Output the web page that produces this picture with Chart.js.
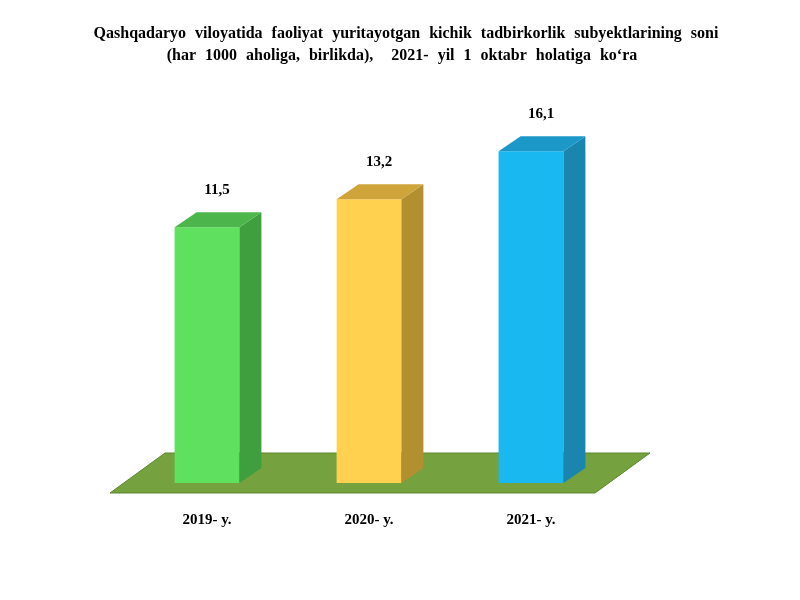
<!DOCTYPE html>
<html>
<head>
<meta charset="utf-8">
<script src="https://cdn.jsdelivr.net/npm/chart.js@4"></script>
<style>
  body { margin: 0; background: #fff; }
  #wrap { width: 800px; height: 600px; }
</style>
</head>
<body>
<div id="wrap"><canvas id="myChart" width="800" height="600"></canvas></div>
<script>
// DATOS
const categorias = ["2019- y.", "2020- y.", "2021- y."];
const valores = [11.5, 13.2, 16.1];
const etiquetas = ["11,5", "13,2", "16,1"];
const titulo = [
  "Qashqadaryo viloyatida faoliyat yuritayotgan kichik tadbirkorlik subyektlarining soni",
  "(har 1000 aholiga, birlikda),  2021- yil 1 oktabr holatiga ko\u2018ra"
];
const colFrente = ["#5fe05f", "#ffd14f", "#19b8f0"];
const colLado = ["#3f9f3f", "#b3902f", "#1a86b0"];
const colTapa = ["#4cb64c", "#cfa43a", "#1b98c8"];

const DX = 22, DY = -15;
const fuente = "bold 15px 'Liberation Serif', 'Times New Roman', serif";

// PLUGIN 3D
const plugin3d = {
  id: "plugin3d",
  beforeDatasetsDraw(chart) {
    const ctx = chart.ctx;
    ctx.save();
    ctx.fillStyle = "#76a13f";
    ctx.beginPath();
    ctx.moveTo(165, 453); ctx.lineTo(650, 453);
    ctx.lineTo(595, 493); ctx.lineTo(110, 493);
    ctx.closePath(); ctx.fill();
    ctx.strokeStyle = "#5d8530"; ctx.lineWidth = 1; ctx.stroke();
    ctx.restore();
  },
  afterDatasetsDraw(chart) {
    const ctx = chart.ctx;
    const meta = chart.getDatasetMeta(0);
    ctx.save();
    meta.data.forEach((bar, i) => {
      const l = bar.x - bar.width / 2, r = bar.x + bar.width / 2;
      const t = bar.y, b = bar.base;
      ctx.fillStyle = colLado[i];
      ctx.beginPath();
      ctx.moveTo(r, t); ctx.lineTo(r + DX, t + DY);
      ctx.lineTo(r + DX, b + DY); ctx.lineTo(r, b); ctx.closePath(); ctx.fill();
      ctx.fillStyle = colTapa[i];
      ctx.beginPath();
      ctx.moveTo(l, t); ctx.lineTo(l + DX, t + DY);
      ctx.lineTo(r + DX, t + DY); ctx.lineTo(r, t); ctx.closePath(); ctx.fill();
      ctx.fillStyle = "#000";
      ctx.font = fuente;
      ctx.textAlign = "center";
      ctx.fillText(etiquetas[i], bar.x + 10, t - 33);
      ctx.fillText(categorias[i], bar.x, 524);
    });
    // TITULO
    ctx.font = "bold 16px 'Liberation Serif', 'Times New Roman', serif";
    ctx.wordSpacing = "5px";
    ctx.fillText(titulo[0], 406, 38);
    ctx.fillText(titulo[1], 402, 60);
    ctx.restore();
  }
};

const config = {
  type: "bar",
  data: {
    labels: categorias,
    datasets: [{
      data: valores,
      base: -4,
      backgroundColor: colFrente,
      barPercentage: 0.4,
      categoryPercentage: 1
    }]
  },
  options: {
    responsive: false,
    animation: false,
    layout: { padding: { left: 126, right: 188, top: 87, bottom: 117 } },
    plugins: { legend: { display: false }, tooltip: { enabled: false } },
    scales: {
      x: { display: false },
      y: { display: false, min: -4, max: 20 }
    }
  },
  plugins: [plugin3d]
};

new Chart(document.getElementById("myChart"), config);
</script>
</body>
</html>
